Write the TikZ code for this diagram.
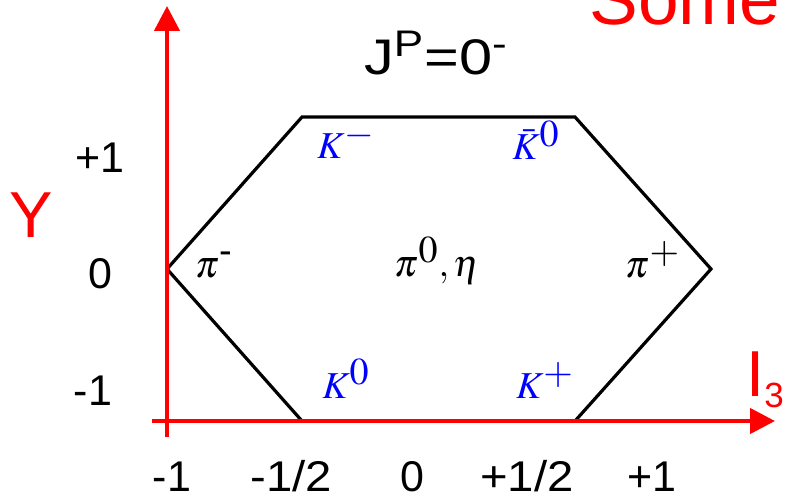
\RequirePackage{fix-cm}
\documentclass[tikz,border=0pt]{standalone}
\usepackage{mathptmx}
\usepackage{fontspec}
\setmainfont{Liberation Sans}
\usetikzlibrary{arrows.meta, positioning}
\newcommand{\up}[1]{^{\textstyle #1}}

\begin{document}
\begin{tikzpicture}[x=0.5pt, y=-0.5pt,
        axis/.style={draw=red, line width=2.2pt, -{Triangle[length=12.5pt, width=12.5pt]}},
        octet/.style={draw=black, line width=1.6pt, line join=miter},
        tick/.style={anchor=base, inner sep=0pt, font=\fontsize{21.5}{24}\selectfont},
        meson/.style={anchor=base, inner sep=0pt, text=blue, font=\fontsize{19}{22}\selectfont},
        pion/.style={meson, text=black},
        axislabel/.style={anchor=base, inner sep=0pt, text=red, font=\fontsize{32.5}{36}\selectfont}
    ]
        \useasboundingbox (0,0) rectangle (785,497);

        % Hexagono
        \coordinate (left) at (167,269);
        \coordinate (topleft) at (302,117);
        \coordinate (topright) at (575,117);
        \coordinate (right) at (711,269);
        \coordinate (botright) at (575,421);
        \coordinate (botleft) at (302,421);
        \draw[octet] (left) -- (topleft) -- (topright) -- (right) -- (botright) -- (botleft) -- cycle;

        % Ejes
        \coordinate (xfrom) at (152,421);
        \coordinate (xto) at (775,421);
        \coordinate (yfrom) at (167,437);
        \coordinate (yto) at (167,6);
        \draw[axis] (xfrom) -- (xto);
        \draw[axis] (yfrom) -- (yto);

        % Mesones
        \node[meson] (kminus) at (346,159) {$K\up{-}$};
        \node[meson] (kzerobar) at (536,160) {$\bar{K}\up{0}$};
        \node[pion] (piminus) at (214,277) {$\pi\up{\textnormal{-}}$};
        \node[pion] (pizero) at (437,276) {$\pi\up{0}, \eta$};
        \node[pion] (piplus) at (653,277) {$\pi\up{+}$};
        \node[meson] (kzero) at (346,398) {$K\up{0}$};
        \node[meson] (kplus) at (545,398) {$K\up{+}$};

        % Escalas
        \node[tick] (yplus) at (100,173) {+1};
        \node[tick] (yzero) at (100,288) {0};
        \node[tick] (yminus) at (93,405) {-1};
        \node[tick] (xminus) at (172,491) {-1};
        \node[tick] (xhalfminus) at (291,491) {\scalebox{1.1}[1]{-1/2}};
        \node[tick] (xzero) at (412,491) {0};
        \node[tick] (xhalfplus) at (527,491) {\scalebox{1.1}[1]{+1/2}};
        \node[tick] (xplus) at (652,491) {+1};

        % Etiquetas
        \node[axislabel] (ylabel) at (31,237) {Y};
        \node[axislabel, anchor=base west] (xlabel) at (746,396) {I\raisebox{-5.5pt}{\fontsize{17.5}{20}\selectfont 3}};
        \node[anchor=base, inner sep=0pt, font=\fontsize{25}{28}\selectfont] (spin) at (436,75) {\scalebox{1.19}[1]{J\textsuperscript{P}=0\textsuperscript{-}}};
        \node[anchor=base west, inner sep=0pt, text=red, font=\fontsize{36.5}{40}\selectfont] (title) at (589,25) {Some};
    \end{tikzpicture}
\end{document}
